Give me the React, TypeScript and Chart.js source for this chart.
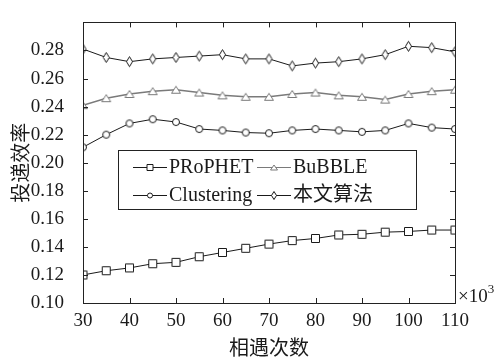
import React, { useEffect, useRef } from "react";
import { Chart, registerables } from "chart.js";

Chart.register(...registerables);

const xValues = [30, 35, 40, 45, 50, 55, 60, 65, 70, 75, 80, 85, 90, 95, 100, 105, 110];
const prophet = [0.120, 0.123, 0.125, 0.128, 0.129, 0.133, 0.136, 0.139, 0.142, 0.1445, 0.146, 0.1485, 0.149, 0.1505, 0.151, 0.152, 0.152];
const bubble = [0.241, 0.246, 0.249, 0.251, 0.252, 0.250, 0.248, 0.247, 0.247, 0.249, 0.250, 0.248, 0.247, 0.245, 0.249, 0.251, 0.252];
const clustering = [0.211, 0.220, 0.228, 0.231, 0.229, 0.224, 0.223, 0.2215, 0.221, 0.223, 0.224, 0.223, 0.222, 0.223, 0.228, 0.225, 0.224];
const ours = [0.281, 0.275, 0.272, 0.274, 0.275, 0.276, 0.277, 0.274, 0.274, 0.269, 0.271, 0.272, 0.274, 0.277, 0.283, 0.282, 0.279];

const seriesNames = ["PRoPHET", "BuBBLE", "Clustering", "本文算法"];
const xTitle = "相遇次数";
const yTitle = "投递效率";
const xTicks = { min: 30, max: 110, step: 10 };
const yTicks = { min: 0.1, max: 0.3, step: 0.02 };

const LATIN = "'Liberation Serif', 'Times New Roman', serif";
const CJK = "'Noto Sans CJK SC', sans-serif";
const TEXT = "#1a1a1a";
const BLACK = "#1a1a1a";
const GRAY = "#7a7a7a";

type Kind = "square" | "triangle" | "circle" | "diamond";

function pathMarker(ctx: CanvasRenderingContext2D, kind: Kind, cx: number, cy: number, w: number, h: number) {
  ctx.beginPath();
  if (kind === "square") {
    ctx.rect(cx - w / 2, cy - h / 2, w, h);
  } else if (kind === "circle") {
    ctx.ellipse(cx, cy, w / 2, h / 2, 0, 0, Math.PI * 2);
  } else if (kind === "triangle") {
    ctx.moveTo(cx, cy - h / 2);
    ctx.lineTo(cx + w / 2, cy + h / 2);
    ctx.lineTo(cx - w / 2, cy + h / 2);
    ctx.closePath();
  } else {
    ctx.moveTo(cx, cy - h / 2);
    ctx.lineTo(cx + w / 2, cy);
    ctx.lineTo(cx, cy + h / 2);
    ctx.lineTo(cx - w / 2, cy);
    ctx.closePath();
  }
  ctx.fillStyle = "#ffffff";
  ctx.fill();
  ctx.stroke();
}

function makeMarker(kind: Kind, w: number, h: number, color: string) {
  const c = document.createElement("canvas");
  c.width = Math.ceil(w + 3);
  c.height = Math.ceil(h + 3);
  const ctx = c.getContext("2d")!;
  ctx.strokeStyle = color;
  ctx.lineWidth = 1;
  pathMarker(ctx, kind, c.width / 2, c.height / 2, w, h);
  return c;
}

const kinds: Kind[] = ["square", "triangle", "circle", "diamond"];
const colors = [BLACK, GRAY, BLACK, BLACK];

const overlay = {
  id: "overlay",
  afterDraw(chart: any) {
    const ctx: CanvasRenderingContext2D = chart.ctx;
    const { left, right, top, bottom } = chart.chartArea;
    const xs = chart.scales.x;
    const ys = chart.scales.y;
    ctx.save();
    ctx.strokeStyle = "#222";
    ctx.lineWidth = 1;
    // box
    ctx.strokeRect(Math.round(left) + 0.5, Math.round(top) + 0.5, Math.round(right - left), Math.round(bottom - top));
    // inward ticks
    ctx.beginPath();
    for (let v = yTicks.min; v <= yTicks.max + 1e-9; v += yTicks.step) {
      const py = Math.round(ys.getPixelForValue(v)) + 0.5;
      ctx.moveTo(left, py);
      ctx.lineTo(left + 5, py);
      ctx.moveTo(right, py);
      ctx.lineTo(right - 5, py);
    }
    for (let v = xTicks.min; v <= xTicks.max + 1e-9; v += xTicks.step) {
      const px = Math.round(xs.getPixelForValue(v)) + 0.5;
      ctx.moveTo(px, bottom);
      ctx.lineTo(px, bottom - 5);
      ctx.moveTo(px, top);
      ctx.lineTo(px, top + 5);
    }
    ctx.stroke();

    // axis titles
    ctx.fillStyle = TEXT;
    ctx.font = `20px ${CJK}`;
    ctx.textAlign = "center";
    ctx.textBaseline = "middle";
    ctx.fillText(xTitle, (left + right) / 2, 347);
    ctx.save();
    ctx.translate(20, (top + bottom) / 2);
    ctx.rotate(-Math.PI / 2);
    ctx.fillText(yTitle, 0, 0);
    ctx.restore();

    // x10^3
    ctx.textAlign = "left";
    ctx.textBaseline = "alphabetic";
    ctx.font = `19px ${LATIN}`;
    ctx.fillText("×10", right + 3, 302);
    const w10 = ctx.measureText("×10").width;
    ctx.font = `13px ${LATIN}`;
    ctx.fillText("3", right + 3 + w10, 293);

    // legend
    const lx = 118, ly = 150, lw = 298, lh = 59;
    ctx.fillStyle = "#ffffff";
    ctx.fillRect(lx, ly, lw, lh);
    ctx.strokeStyle = "#222";
    ctx.strokeRect(lx + 0.5, ly + 0.5, lw, lh);
    const cols = [133, 257];
    const rows = [167, 195];
    const small: [number, number][] = [[6, 6], [7, 5], [5, 5], [5, 8]];
    for (let i = 0; i < 4; i++) {
      const x0 = cols[i % 2];
      const y0 = rows[Math.floor(i / 2)];
      ctx.strokeStyle = colors[i];
      ctx.lineWidth = 1;
      ctx.beginPath();
      ctx.moveTo(x0, y0 + 0.5);
      ctx.lineTo(x0 + 34, y0 + 0.5);
      ctx.stroke();
      pathMarker(ctx, kinds[i], x0 + 17, y0 + 0.5, small[i][0], small[i][1]);
      ctx.fillStyle = TEXT;
      ctx.textBaseline = "middle";
      ctx.textAlign = "left";
      ctx.font = `20px ${LATIN}, ${CJK}`;
      ctx.fillText(seriesNames[i], x0 + 36, y0 + 1);
    }
    ctx.restore();
  },
};

export default function App() {
  const ref = useRef<HTMLCanvasElement>(null);
  useEffect(() => {
    const markerSizes: [number, number][] = [[8, 8], [9, 7], [7, 7], [6, 10]];
    const allData = [prophet, bubble, clustering, ours];
    const datasets = allData.map((arr, i) => ({
      label: seriesNames[i],
      data: arr.map((y, j) => ({ x: xValues[j], y })),
      borderColor: colors[i],
      borderWidth: i === 1 ? 1.5 : 1,
      pointStyle: makeMarker(kinds[i], markerSizes[i][0], markerSizes[i][1], colors[i]) as any,
      pointRadius: 5,
      tension: 0,
      fill: false,
    }));
    const chart = new Chart(ref.current!, {
      type: "line",
      data: { datasets },
      options: {
        animation: false,
        responsive: false,
        devicePixelRatio: 1,
        layout: { padding: { top: 10, right: 43, left: 0, bottom: 0 } },
        plugins: { legend: { display: false }, tooltip: { enabled: false } },
        scales: {
          x: {
            type: "linear",
            min: xTicks.min,
            max: xTicks.max,
            grid: { display: false },
            border: { display: false },
            ticks: {
              stepSize: xTicks.step,
              padding: -1,
              color: TEXT,
              maxRotation: 0,
              autoSkip: false,
              font: { family: LATIN, size: 19 },
            },
            afterFit: (s: any) => { s.height = 55; },
          },
          y: {
            type: "linear",
            min: yTicks.min,
            max: yTicks.max,
            grid: { display: false },
            border: { display: false },
            ticks: {
              stepSize: yTicks.step,
              padding: 11,
              color: TEXT,
              autoSkip: false,
              font: { family: LATIN, size: 19 },
              callback: (v: any) => (Math.abs(v - yTicks.max) < 1e-6 ? "" : Number(v).toFixed(2)),
            },
            afterFit: (s: any) => { s.width = 83; },
          },
        },
      },
      plugins: [overlay],
    });
    return () => chart.destroy();
  }, []);
  return (
    <div style={{ position: "fixed", left: 0, top: 0, width: 498, height: 358, background: "#fff" }}>
      <canvas ref={ref} width={498} height={358} style={{ display: "block" }} />
    </div>
  );
}
